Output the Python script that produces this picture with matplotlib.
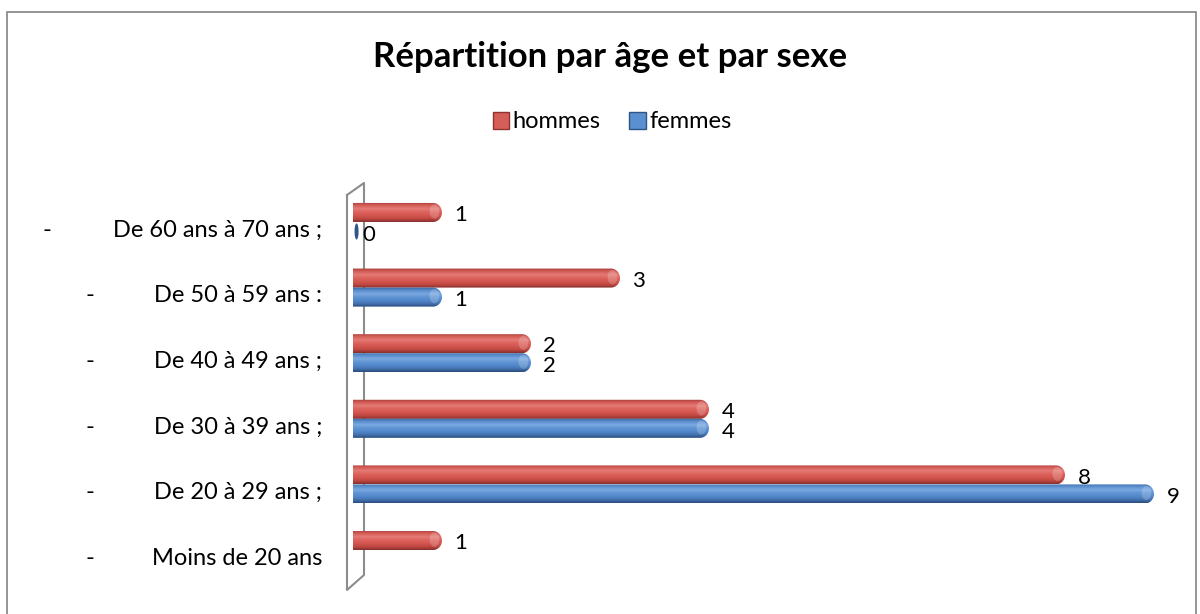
import numpy as np
import matplotlib
matplotlib.use("Agg")
import matplotlib.pyplot as plt
from matplotlib.path import Path
from matplotlib.patches import PathPatch, Ellipse, Rectangle, Patch
from matplotlib.lines import Line2D
from matplotlib.colors import LinearSegmentedColormap
import matplotlib.transforms as mtransforms

plt.rcParams['font.family'] = ['Lato', 'DejaVu Sans']

# ---- data ----
categories = ["Moins de 20 ans", "De 20 à 29 ans ;", "De 30 à 39 ans ;",
              "De 40 à 49 ans ;", "De 50 à 59 ans :", "De 60 ans à 70 ans ;"]
hommes = [1, 8, 4, 2, 3, 1]
femmes = [np.nan, 9, 4, 2, 1, 0]
series_names = ["hommes", "femmes"]
title = "Répartition par âge et par sexe"

W, H = 1200, 614
fig = plt.figure(figsize=(W / 100, H / 100), dpi=100)

def fx(px):
    return px / W

def fy(py):
    return 1 - py / H

# axes: x=0 at px 353, 1 unit ~ 89 px
ax_left, ax_right = 353, 1183
ax_top, ax_bottom = 182.6, 589.4
ax = fig.add_axes([fx(ax_left), fy(ax_bottom), fx(ax_right - ax_left),
                   (ax_bottom - ax_top) / H])
ax.set_xlim(0, (ax_right - ax_left) / 89.0)
ax.set_ylim(-0.6, 5.6)
ax.axis('off')

# figure border
fig.add_artist(Rectangle((fx(7), -0.05), fx(1196 - 7), fy(12) + 0.05,
                         transform=fig.transFigure, fill=False,
                         edgecolor='#8c8c8c', linewidth=1.3))

# 3D wall (drawn behind the bars)
wall = [(347, 195), (364, 183), (364, 575), (347, 590), (347, 195)]
fig.add_artist(Line2D([fx(p[0]) for p in wall], [fy(p[1]) for p in wall],
                      transform=fig.transFigure, color='#8c8c8c', linewidth=1.5,
                      zorder=-1))

bar_h = 0.29
off = 0.145
cap_r = 0.1  # data units in x for rounded end

red_grad = ['#a63e3a', '#d65e59', '#e57a75', '#dc625d', '#d4554f', '#c04843', '#862f2c']
blue_grad = ['#3a659c', '#5a8fd0', '#7ba8e0', '#5f94d4', '#5388cb', '#4473b0', '#2a4c7e']

cm_red = LinearSegmentedColormap.from_list('r', red_grad[::-1])
cm_blue = LinearSegmentedColormap.from_list('b', blue_grad[::-1])
grad = np.linspace(0, 1, 64).reshape(-1, 1)


def draw_bar(v, yc, cmap, edge):
    y0, y1 = yc - bar_h / 2, yc + bar_h / 2
    if v == 0:
        e = Ellipse((0.04, yc), 0.045, bar_h * 0.85, facecolor=edge, edgecolor='none', zorder=3)
        ax.add_patch(e)
        return
    xe = max(v - cap_r, 0.0)
    t = np.linspace(-np.pi / 2, np.pi / 2, 40)
    pts = [(0, y0), (xe, y0)]
    pts += [(xe + cap_r * np.cos(a), yc + bar_h / 2 * np.sin(a)) for a in t]
    pts += [(0, y1), (0, y0)]
    path = Path(pts, closed=True)
    patch = PathPatch(path, facecolor='none', edgecolor='none')
    ax.add_patch(patch)
    im = ax.imshow(grad, cmap=cmap, extent=(0, v + 0.01, y0, y1), aspect='auto',
                   origin='lower', interpolation='bilinear', zorder=2)
    im.set_clip_path(patch)
    cap = Ellipse((xe + cap_r * 0.15, yc + bar_h * 0.05), cap_r * 1.1, bar_h * 0.75,
                  facecolor='white', alpha=0.2, edgecolor='none', zorder=3)
    cap.set_clip_path(patch)
    ax.add_patch(cap)


lbl_fs = 17
val_fs = 16
for i, cat in enumerate(categories):
    yr = i + off
    yb = i - off
    draw_bar(hommes[i], yr, cm_red, '#8f3431')
    ax.text(hommes[i] + 0.14, yr - 0.04, str(hommes[i]), fontsize=val_fs,
            ha='left', va='center', color='black')
    if not np.isnan(femmes[i]):
        draw_bar(femmes[i], yb, cm_blue, '#2d5587')
        fv = int(femmes[i])
        xoff = 0.14 if fv > 0 else 0.1
        ax.text(fv + xoff, yb - 0.05, str(fv), fontsize=val_fs,
                ha='left', va='center', color='black')

# category labels (right aligned at px 322), with leading dashes
trans_lbl = mtransforms.blended_transform_factory(fig.transFigure, ax.transData)
for i, cat in enumerate(categories):
    yl = i - 0.125
    fig.text(fx(322), yl, cat, transform=trans_lbl, fontsize=lbl_fs,
             ha='right', va='center')
    dash_x = 47 if i == len(categories) - 1 else 90
    fig.text(fx(dash_x), yl, "-", transform=trans_lbl, fontsize=lbl_fs,
             ha='center', va='center')

# title
fig.text(fx(610), fy(57), title, fontsize=25, fontweight='bold', ha='center', va='center')

# legend
handles = [Patch(facecolor='#d65e59', edgecolor='#8f3431'),
           Patch(facecolor='#5a8fd0', edgecolor='#2d5587')]
fig.legend(handles, series_names, loc='center', bbox_to_anchor=(fx(612), fy(122)),
           ncol=2, frameon=False, fontsize=lbl_fs, handlelength=0.7, handleheight=0.7,
           handletextpad=0.15, columnspacing=1.2)

fig.savefig("out.png", dpi=100)
